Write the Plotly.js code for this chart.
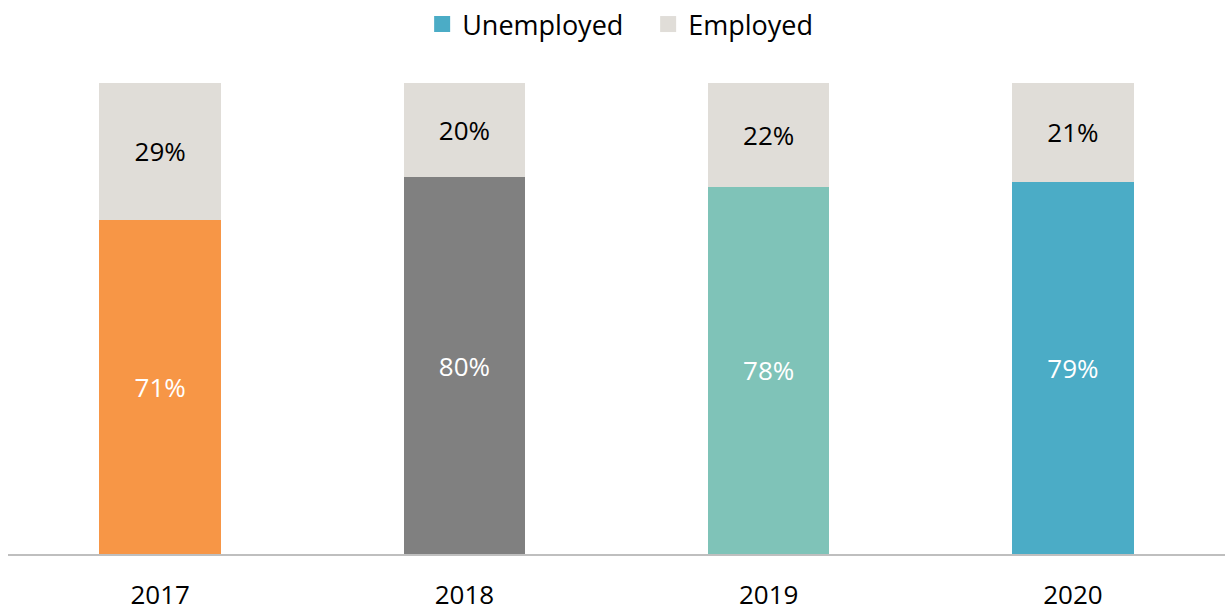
<!DOCTYPE html>
<html>
<head>
<meta charset="utf-8">
<script src="https://cdn.plot.ly/plotly-3.0.1.min.js"></script>
<style>html,body{margin:0;padding:0;background:#fff;}#chart{width:1225px;height:612px;}</style>
</head>
<body>
<div id="chart"></div>
<script>
const years = ['2017', '2018', '2019', '2020'];
const unemployed = [71, 80, 78, 79];
const employed = [29, 20, 22, 21];
const unemployedColors = ['#F79646', '#808080', '#7FC3B8', '#4BACC6'];
const employedColor = '#E0DDD8';
const legendUnemployedColor = '#4BACC6';

const fontFamily = '"Open Sans", sans-serif';

const traces = [
  {
    type: 'bar', name: 'Unemployed', x: years, y: unemployed,
    marker: {color: unemployedColors},
    text: unemployed.map(v => v + '%'), textposition: 'inside', insidetextanchor: 'middle',
    textfont: {color: '#FFFFFF', size: 26, family: fontFamily},
    hoverinfo: 'skip', showlegend: false
  },
  {
    type: 'bar', name: 'Employed', x: years, y: employed,
    marker: {color: employedColor},
    text: employed.map(v => v + '%'), textposition: 'inside', insidetextanchor: 'middle',
    textfont: {color: '#000000', size: 26, family: fontFamily},
    hoverinfo: 'skip', showlegend: false
  },
  {
    type: 'scatter', mode: 'markers', name: 'Unemployed', x: [null], y: [null],
    marker: {color: legendUnemployedColor, symbol: 'square', size: 16}, showlegend: true, hoverinfo: 'skip'
  },
  {
    type: 'scatter', mode: 'markers', name: 'Employed', x: [null], y: [null],
    marker: {color: employedColor, symbol: 'square', size: 16}, showlegend: true, hoverinfo: 'skip'
  }
];

const layout = {
  width: 1225, height: 612,
  barmode: 'stack', bargap: 0.6,
  margin: {l: 8, r: 0, t: 83, b: 58},
  paper_bgcolor: '#FFFFFF', plot_bgcolor: '#FFFFFF',
  font: {family: fontFamily, color: '#000000', size: 26},
  showlegend: true,
  legend: {orientation: 'h', x: 0.526, xanchor: 'center', y: 1.0, yref: 'container', yanchor: 'top',
           font: {size: 27, family: fontFamily}, traceorder: 'normal', itemwidth: 30,
           entrywidth: 181, entrywidthmode: 'pixels'},
  xaxis: {type: 'category', showline: true, linecolor: '#BFBFBF', linewidth: 1.5,
          ticks: 'outside', ticklen: 17, tickcolor: 'rgba(0,0,0,0)',
          tickfont: {size: 26, family: fontFamily}, showgrid: false, zeroline: false},
  yaxis: {range: [0, 100], visible: false, showgrid: false, zeroline: false}
};

Plotly.newPlot('chart', traces, layout, {displayModeBar: false, staticPlot: true});
</script>
</body>
</html>
